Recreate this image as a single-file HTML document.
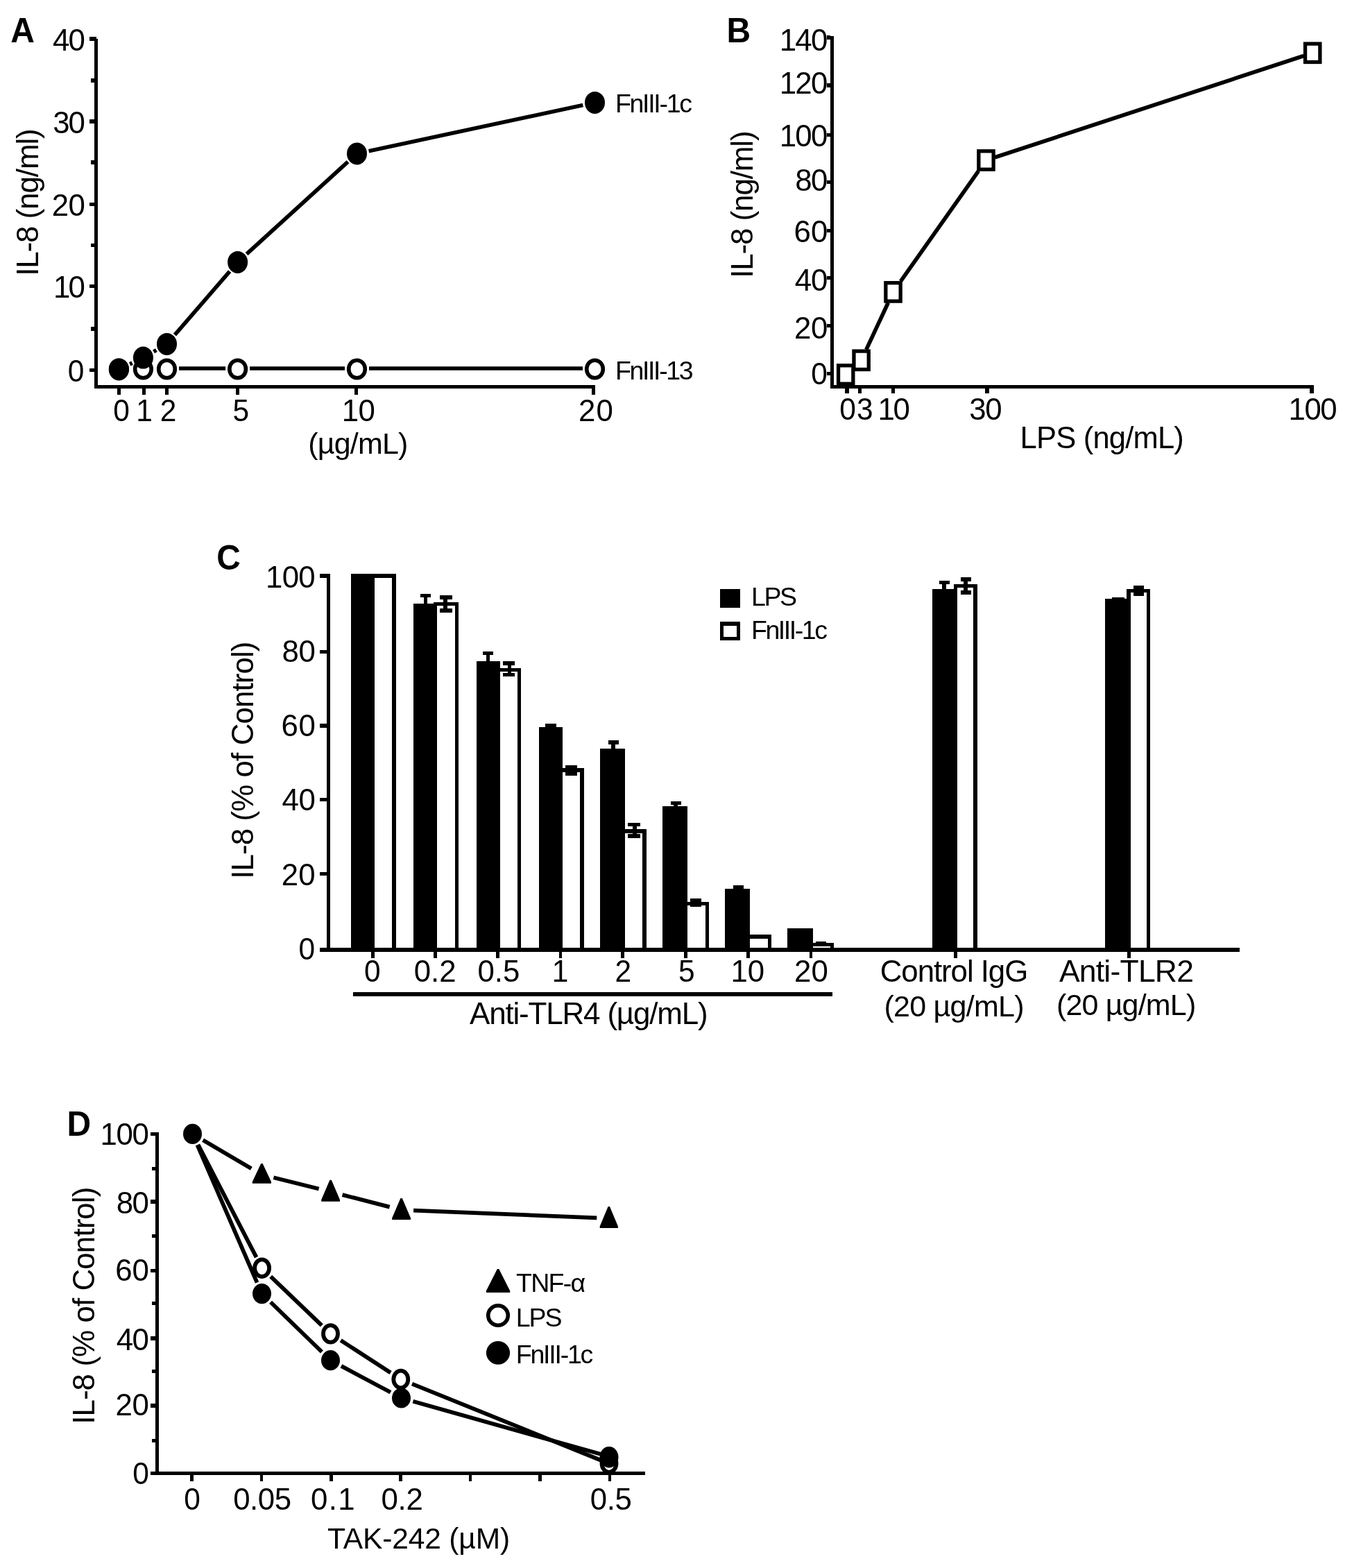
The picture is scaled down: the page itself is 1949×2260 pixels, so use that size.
<!DOCTYPE html>
<html><head><meta charset="utf-8"><title>Figure</title>
<style>html,body{margin:0;padding:0;background:#fff;overflow:hidden;width:1949px;height:2260px;}svg{display:block;}text{font-family:"Liberation Sans",Arial,sans-serif;fill:#000;}</style>
</head><body>
<svg width="1949" height="2260" viewBox="0 0 1949 2260">
<rect width="1949" height="2260" fill="#fff"/>
<text transform="matrix(0.9700 0 0 1 15.16 61.10)" font-size="49.5" font-weight="bold">A</text>
<rect x="136.10" y="56.10" width="4.80" height="503.80" fill="#000" shape-rendering="crispEdges"/>
<rect x="129.00" y="53.00" width="9.90" height="5.90" fill="#000" shape-rendering="crispEdges"/>
<rect x="129.00" y="172.40" width="7.20" height="5.20" fill="#000" shape-rendering="crispEdges"/>
<rect x="129.00" y="291.60" width="7.20" height="5.20" fill="#000" shape-rendering="crispEdges"/>
<rect x="129.00" y="409.90" width="7.20" height="5.20" fill="#000" shape-rendering="crispEdges"/>
<rect x="129.00" y="530.90" width="7.20" height="5.20" fill="#000" shape-rendering="crispEdges"/>
<rect x="131.00" y="113.30" width="5.20" height="5.40" fill="#000" shape-rendering="crispEdges"/>
<rect x="131.00" y="231.30" width="5.20" height="5.40" fill="#000" shape-rendering="crispEdges"/>
<rect x="131.00" y="350.50" width="5.20" height="5.40" fill="#000" shape-rendering="crispEdges"/>
<rect x="131.00" y="471.30" width="5.20" height="5.40" fill="#000" shape-rendering="crispEdges"/>
<rect x="136.20" y="555.20" width="722.20" height="4.70" fill="#000" shape-rendering="crispEdges"/>
<rect x="169.40" y="559.90" width="5.00" height="8.90" fill="#000" shape-rendering="crispEdges"/>
<rect x="205.10" y="559.90" width="5.00" height="8.90" fill="#000" shape-rendering="crispEdges"/>
<rect x="238.00" y="559.90" width="5.00" height="8.90" fill="#000" shape-rendering="crispEdges"/>
<rect x="339.70" y="559.90" width="5.00" height="8.90" fill="#000" shape-rendering="crispEdges"/>
<rect x="510.70" y="559.90" width="5.00" height="8.90" fill="#000" shape-rendering="crispEdges"/>
<rect x="852.60" y="559.90" width="5.00" height="8.90" fill="#000" shape-rendering="crispEdges"/>
<text x="75.91" y="72.60" font-size="43.8" letter-spacing="-1.690">40</text>
<text x="76.36" y="191.60" font-size="43.8" letter-spacing="-2.133">30</text>
<text x="74.71" y="310.80" font-size="43.8" letter-spacing="-0.486">20</text>
<text x="76.90" y="429.10" font-size="43.8" letter-spacing="-2.671">10</text>
<text transform="matrix(0.9700 0 0 1 97.71 550.10)" font-size="43.8">0</text>
<text transform="matrix(0.9700 0 0 1 163.16 606.50)" font-size="43.8">0</text>
<text transform="matrix(0.9700 0 0 1 196.26 606.50)" font-size="43.8">1</text>
<text transform="matrix(0.9700 0 0 1 230.71 606.50)" font-size="43.8">2</text>
<text transform="matrix(0.9700 0 0 1 335.46 606.50)" font-size="43.8">5</text>
<text x="492.80" y="606.50" font-size="43.8" letter-spacing="-0.771">10</text>
<text x="834.11" y="606.50" font-size="43.8" letter-spacing="0.915">20</text>
<text x="444.21" y="653.50" font-size="43" letter-spacing="-0.803">(µg/mL)</text>
<text transform="matrix(0 -1 1 0 54.80 397.87)" font-size="44" letter-spacing="-1.121">IL-8 (ng/ml)</text>
<line x1="258.00" y1="531.00" x2="325.10" y2="531.00" stroke="#000" stroke-width="5.7"/>
<line x1="360.10" y1="531.00" x2="497.00" y2="531.00" stroke="#000" stroke-width="5.7"/>
<line x1="532.00" y1="531.00" x2="840.00" y2="531.00" stroke="#000" stroke-width="5.7"/>
<line x1="187.18" y1="524.83" x2="190.62" y2="523.17" stroke="#000" stroke-width="5.7"/>
<line x1="221.55" y1="506.85" x2="225.35" y2="504.65" stroke="#000" stroke-width="5.7"/>
<line x1="251.95" y1="482.67" x2="331.15" y2="391.13" stroke="#000" stroke-width="5.7"/>
<line x1="355.54" y1="366.12" x2="501.56" y2="233.18" stroke="#000" stroke-width="5.7"/>
<line x1="531.61" y1="217.73" x2="840.39" y2="151.57" stroke="#000" stroke-width="5.7"/>
<ellipse cx="171.40" cy="532.00" rx="11.80" ry="12.80" fill="#fff" stroke="#000" stroke-width="5.6"/>
<ellipse cx="206.40" cy="532.00" rx="11.80" ry="12.80" fill="#fff" stroke="#000" stroke-width="5.6"/>
<ellipse cx="240.50" cy="532.00" rx="11.80" ry="12.80" fill="#fff" stroke="#000" stroke-width="5.6"/>
<ellipse cx="342.60" cy="532.00" rx="11.80" ry="12.80" fill="#fff" stroke="#000" stroke-width="5.6"/>
<ellipse cx="514.50" cy="532.00" rx="11.80" ry="12.80" fill="#fff" stroke="#000" stroke-width="5.6"/>
<ellipse cx="857.50" cy="532.00" rx="11.80" ry="12.80" fill="#fff" stroke="#000" stroke-width="5.6"/>
<ellipse cx="171.40" cy="532.40" rx="14.5" ry="16" fill="#000"/>
<ellipse cx="206.40" cy="515.60" rx="14.5" ry="16" fill="#000"/>
<ellipse cx="240.50" cy="495.90" rx="14.5" ry="16" fill="#000"/>
<ellipse cx="342.60" cy="377.90" rx="14.5" ry="16" fill="#000"/>
<ellipse cx="514.50" cy="221.40" rx="14.5" ry="16" fill="#000"/>
<ellipse cx="857.50" cy="147.90" rx="14.5" ry="16" fill="#000"/>
<text x="886.91" y="161.80" font-size="37.5" letter-spacing="-2.286">FnIII-1c</text>
<text x="886.91" y="546.90" font-size="37.5" letter-spacing="-2.357">FnIII-13</text>
<text transform="matrix(0.9700 0 0 1 1047.46 61.00)" font-size="49.5" font-weight="bold">B</text>
<rect x="1197.20" y="51.50" width="4.60" height="508.30" fill="#000" shape-rendering="crispEdges"/>
<rect x="1192.00" y="51.30" width="5.20" height="5.40" fill="#000" shape-rendering="crispEdges"/>
<rect x="1192.00" y="120.10" width="5.20" height="5.40" fill="#000" shape-rendering="crispEdges"/>
<rect x="1192.00" y="191.60" width="5.20" height="5.40" fill="#000" shape-rendering="crispEdges"/>
<rect x="1192.00" y="259.70" width="5.20" height="5.40" fill="#000" shape-rendering="crispEdges"/>
<rect x="1192.00" y="329.60" width="5.20" height="5.40" fill="#000" shape-rendering="crispEdges"/>
<rect x="1192.00" y="397.50" width="5.20" height="5.40" fill="#000" shape-rendering="crispEdges"/>
<rect x="1192.00" y="467.00" width="5.20" height="5.40" fill="#000" shape-rendering="crispEdges"/>
<rect x="1192.00" y="535.60" width="5.20" height="5.40" fill="#000" shape-rendering="crispEdges"/>
<rect x="1197.20" y="554.90" width="696.60" height="4.90" fill="#000" shape-rendering="crispEdges"/>
<rect x="1218.40" y="559.80" width="5.20" height="7.00" fill="#000" shape-rendering="crispEdges"/>
<rect x="1237.20" y="559.80" width="5.20" height="7.00" fill="#000" shape-rendering="crispEdges"/>
<rect x="1284.80" y="559.80" width="5.20" height="7.00" fill="#000" shape-rendering="crispEdges"/>
<rect x="1420.40" y="559.80" width="5.20" height="7.00" fill="#000" shape-rendering="crispEdges"/>
<rect x="1888.40" y="559.80" width="5.20" height="7.00" fill="#000" shape-rendering="crispEdges"/>
<text x="1123.80" y="72.50" font-size="43.8" letter-spacing="-1.795">140</text>
<text x="1123.80" y="135.40" font-size="43.8" letter-spacing="-1.795">120</text>
<text x="1123.80" y="210.60" font-size="43.8" letter-spacing="-1.795">100</text>
<text x="1146.14" y="275.40" font-size="43.8" letter-spacing="-1.514">80</text>
<text x="1144.61" y="348.50" font-size="43.8" letter-spacing="0.014">60</text>
<text x="1145.81" y="418.50" font-size="43.8" letter-spacing="-1.190">40</text>
<text x="1145.01" y="487.60" font-size="43.8" letter-spacing="-0.386">20</text>
<text transform="matrix(0.9700 0 0 1 1169.26 553.80)" font-size="43.8">0</text>
<text transform="matrix(0.9700 0 0 1 1210.21 604.80)" font-size="43.8">0</text>
<text transform="matrix(0.9700 0 0 1 1235.12 604.80)" font-size="43.8">3</text>
<text x="1265.50" y="604.80" font-size="43.8" letter-spacing="-2.471">10</text>
<text x="1397.26" y="604.80" font-size="43.8" letter-spacing="-1.333">30</text>
<text x="1857.60" y="604.80" font-size="43.8" letter-spacing="-1.495">100</text>
<text x="1470.61" y="645.90" font-size="43.5" letter-spacing="-0.794">LPS (ng/mL)</text>
<text transform="matrix(0 -1 1 0 1085.00 400.87)" font-size="44" letter-spacing="-1.130">IL-8 (ng/ml)</text>
<line x1="1248.78" y1="503.90" x2="1280.32" y2="436.30" stroke="#000" stroke-width="5.7"/>
<line x1="1298.40" y1="405.46" x2="1410.60" y2="246.44" stroke="#000" stroke-width="5.7"/>
<line x1="1434.32" y1="226.78" x2="1879.38" y2="80.52" stroke="#000" stroke-width="5.7"/>
<rect x="1208.55" y="526.80" width="21.30" height="26.40" fill="#fff" stroke="#000" stroke-width="5.3"/>
<rect x="1230.95" y="506.10" width="21.30" height="26.40" fill="#fff" stroke="#000" stroke-width="5.3"/>
<rect x="1276.85" y="407.70" width="21.30" height="26.40" fill="#fff" stroke="#000" stroke-width="5.3"/>
<rect x="1410.85" y="217.80" width="21.30" height="26.40" fill="#fff" stroke="#000" stroke-width="5.3"/>
<rect x="1881.55" y="63.10" width="21.30" height="26.40" fill="#fff" stroke="#000" stroke-width="5.3"/>
<text transform="matrix(0.9700 0 0 1 312.15 820.70)" font-size="49.5" font-weight="bold">C</text>
<rect x="471.00" y="827.00" width="5.00" height="544.90" fill="#000" shape-rendering="crispEdges"/>
<rect x="460.90" y="1366.00" width="1326.20" height="5.90" fill="#000" shape-rendering="crispEdges"/>
<rect x="461.00" y="827.20" width="10.00" height="5.60" fill="#000" shape-rendering="crispEdges"/>
<rect x="461.00" y="936.50" width="10.00" height="5.60" fill="#000" shape-rendering="crispEdges"/>
<rect x="461.00" y="1043.00" width="10.00" height="5.60" fill="#000" shape-rendering="crispEdges"/>
<rect x="461.00" y="1149.80" width="10.00" height="5.60" fill="#000" shape-rendering="crispEdges"/>
<rect x="461.00" y="1256.70" width="10.00" height="5.60" fill="#000" shape-rendering="crispEdges"/>
<text x="383.10" y="846.70" font-size="43.8" letter-spacing="-0.745">100</text>
<text x="406.54" y="954.30" font-size="43.8" letter-spacing="-0.514">80</text>
<text x="405.41" y="1061.30" font-size="43.8" letter-spacing="0.614">60</text>
<text x="406.61" y="1168.30" font-size="43.8" letter-spacing="-0.590">40</text>
<text x="405.81" y="1276.40" font-size="43.8" letter-spacing="0.215">20</text>
<text transform="matrix(0.9700 0 0 1 430.56 1383.20)" font-size="43.8">0</text>
<rect x="535.20" y="1371.90" width="4.60" height="8.60" fill="#000" shape-rendering="crispEdges"/>
<rect x="625.00" y="1371.90" width="4.60" height="8.60" fill="#000" shape-rendering="crispEdges"/>
<rect x="715.40" y="1371.90" width="4.60" height="8.60" fill="#000" shape-rendering="crispEdges"/>
<rect x="805.50" y="1371.90" width="4.60" height="8.60" fill="#000" shape-rendering="crispEdges"/>
<rect x="895.00" y="1371.90" width="4.60" height="8.60" fill="#000" shape-rendering="crispEdges"/>
<rect x="986.00" y="1371.90" width="4.60" height="8.60" fill="#000" shape-rendering="crispEdges"/>
<rect x="1076.00" y="1371.90" width="4.60" height="8.60" fill="#000" shape-rendering="crispEdges"/>
<rect x="1166.60" y="1371.90" width="4.60" height="8.60" fill="#000" shape-rendering="crispEdges"/>
<rect x="1374.90" y="1371.90" width="4.60" height="8.60" fill="#000" shape-rendering="crispEdges"/>
<rect x="1625.40" y="1371.90" width="4.60" height="8.60" fill="#000" shape-rendering="crispEdges"/>
<text transform="matrix(0.9700 0 0 1 524.96 1415.30)" font-size="43.8">0</text>
<text x="596.75" y="1415.30" font-size="43.8" letter-spacing="-0.070">0.2</text>
<text x="688.55" y="1415.30" font-size="43.8" letter-spacing="-0.039">0.5</text>
<text transform="matrix(0.9700 0 0 1 795.71 1415.30)" font-size="43.8">1</text>
<text transform="matrix(0.9700 0 0 1 886.46 1415.30)" font-size="43.8">2</text>
<text transform="matrix(0.9700 0 0 1 978.11 1415.30)" font-size="43.8">5</text>
<text x="1053.50" y="1415.30" font-size="43.8" letter-spacing="-0.171">10</text>
<text x="1145.11" y="1415.30" font-size="43.8" letter-spacing="-0.085">20</text>
<rect x="509.00" y="1430.20" width="690.90" height="5.60" fill="#000" shape-rendering="crispEdges"/>
<text x="676.99" y="1475.80" font-size="44" letter-spacing="-1.189">Anti-TLR4 (µg/mL)</text>
<text x="1268.81" y="1415.30" font-size="43.8" letter-spacing="-1.055">Control IgG</text>
<text x="1274.41" y="1465.30" font-size="43" letter-spacing="-0.743">(20 µg/mL)</text>
<text x="1526.89" y="1414.80" font-size="44.5" letter-spacing="-0.777">Anti-TLR2</text>
<text x="1522.91" y="1462.50" font-size="43" letter-spacing="-0.832">(20 µg/mL)</text>
<text transform="matrix(0 -1 1 0 364.90 1266.87)" font-size="44" letter-spacing="-0.948">IL-8 (% of Control)</text>
<rect x="506.00" y="827.00" width="34.00" height="539.00" fill="#000" shape-rendering="crispEdges"/>
<rect x="535.00" y="827.00" width="36.00" height="539.00" fill="#000" shape-rendering="crispEdges"/>
<rect x="540.00" y="833.00" width="25.00" height="533.00" fill="#fff" shape-rendering="crispEdges"/>
<rect x="596.10" y="870.10" width="33.80" height="495.90" fill="#000" shape-rendering="crispEdges"/>
<rect x="625.20" y="868.00" width="35.80" height="498.00" fill="#000" shape-rendering="crispEdges"/>
<rect x="629.90" y="872.90" width="26.10" height="493.10" fill="#fff" shape-rendering="crispEdges"/>
<rect x="687.10" y="953.20" width="33.90" height="412.80" fill="#000" shape-rendering="crispEdges"/>
<rect x="716.00" y="963.00" width="34.80" height="403.00" fill="#000" shape-rendering="crispEdges"/>
<rect x="721.00" y="967.90" width="25.00" height="398.10" fill="#fff" shape-rendering="crispEdges"/>
<rect x="777.00" y="1048.00" width="34.00" height="318.00" fill="#000" shape-rendering="crispEdges"/>
<rect x="806.00" y="1107.00" width="36.00" height="259.00" fill="#000" shape-rendering="crispEdges"/>
<rect x="811.00" y="1112.90" width="25.00" height="253.10" fill="#fff" shape-rendering="crispEdges"/>
<rect x="865.10" y="1079.00" width="35.90" height="287.00" fill="#000" shape-rendering="crispEdges"/>
<rect x="896.00" y="1194.80" width="36.00" height="171.20" fill="#000" shape-rendering="crispEdges"/>
<rect x="901.00" y="1200.80" width="25.10" height="165.20" fill="#fff" shape-rendering="crispEdges"/>
<rect x="955.10" y="1162.00" width="35.80" height="204.00" fill="#000" shape-rendering="crispEdges"/>
<rect x="986.00" y="1300.00" width="36.00" height="66.00" fill="#000" shape-rendering="crispEdges"/>
<rect x="990.90" y="1304.90" width="26.10" height="61.10" fill="#fff" shape-rendering="crispEdges"/>
<rect x="1045.00" y="1281.00" width="36.00" height="85.00" fill="#000" shape-rendering="crispEdges"/>
<rect x="1076.00" y="1346.90" width="36.00" height="19.10" fill="#000" shape-rendering="crispEdges"/>
<rect x="1081.00" y="1353.00" width="26.00" height="13.00" fill="#fff" shape-rendering="crispEdges"/>
<rect x="1135.00" y="1338.00" width="36.90" height="28.00" fill="#000" shape-rendering="crispEdges"/>
<rect x="1167.00" y="1358.90" width="35.00" height="7.10" fill="#000" shape-rendering="crispEdges"/>
<rect x="1171.90" y="1363.70" width="25.20" height="2.30" fill="#fff" shape-rendering="crispEdges"/>
<rect x="1344.00" y="849.10" width="35.80" height="516.90" fill="#000" shape-rendering="crispEdges"/>
<rect x="1375.20" y="842.00" width="33.80" height="524.00" fill="#000" shape-rendering="crispEdges"/>
<rect x="1379.80" y="846.90" width="23.30" height="519.10" fill="#fff" shape-rendering="crispEdges"/>
<rect x="1593.10" y="863.10" width="36.70" height="502.90" fill="#000" shape-rendering="crispEdges"/>
<rect x="1624.10" y="849.10" width="33.80" height="516.90" fill="#000" shape-rendering="crispEdges"/>
<rect x="1629.80" y="853.90" width="23.30" height="512.10" fill="#fff" shape-rendering="crispEdges"/>
<rect x="606.00" y="855.90" width="15.00" height="5.00" fill="#000" shape-rendering="crispEdges"/>
<rect x="611.10" y="860.90" width="4.80" height="9.20" fill="#000" shape-rendering="crispEdges"/>
<rect x="634.00" y="857.90" width="18.00" height="6.00" fill="#000" shape-rendering="crispEdges"/>
<rect x="634.00" y="876.90" width="18.00" height="5.80" fill="#000" shape-rendering="crispEdges"/>
<rect x="639.20" y="863.90" width="5.80" height="13.00" fill="#000" shape-rendering="crispEdges"/>
<rect x="696.00" y="939.00" width="15.00" height="4.90" fill="#000" shape-rendering="crispEdges"/>
<rect x="701.00" y="943.90" width="5.00" height="9.30" fill="#000" shape-rendering="crispEdges"/>
<rect x="725.10" y="952.90" width="16.80" height="6.10" fill="#000" shape-rendering="crispEdges"/>
<rect x="725.10" y="970.00" width="16.80" height="5.00" fill="#000" shape-rendering="crispEdges"/>
<rect x="732.00" y="959.00" width="4.90" height="11.00" fill="#000" shape-rendering="crispEdges"/>
<rect x="786.00" y="1043.00" width="15.90" height="5.00" fill="#000" shape-rendering="crispEdges"/>
<rect x="815.00" y="1103.00" width="17.00" height="15.00" fill="#000" shape-rendering="crispEdges"/>
<rect x="876.90" y="1067.00" width="15.10" height="6.00" fill="#000" shape-rendering="crispEdges"/>
<rect x="881.10" y="1073.00" width="5.60" height="6.00" fill="#000" shape-rendering="crispEdges"/>
<rect x="905.10" y="1186.00" width="17.90" height="5.00" fill="#000" shape-rendering="crispEdges"/>
<rect x="905.10" y="1202.00" width="17.90" height="5.70" fill="#000" shape-rendering="crispEdges"/>
<rect x="912.10" y="1191.00" width="5.60" height="11.00" fill="#000" shape-rendering="crispEdges"/>
<rect x="966.90" y="1154.90" width="15.10" height="5.00" fill="#000" shape-rendering="crispEdges"/>
<rect x="971.10" y="1159.90" width="5.80" height="2.10" fill="#000" shape-rendering="crispEdges"/>
<rect x="994.80" y="1295.00" width="16.30" height="12.00" fill="#000" shape-rendering="crispEdges"/>
<rect x="1057.00" y="1276.00" width="15.10" height="5.00" fill="#000" shape-rendering="crispEdges"/>
<rect x="1176.00" y="1357.00" width="15.00" height="6.70" fill="#000" shape-rendering="crispEdges"/>
<rect x="1354.00" y="837.00" width="14.90" height="4.80" fill="#000" shape-rendering="crispEdges"/>
<rect x="1358.10" y="841.80" width="5.90" height="7.30" fill="#000" shape-rendering="crispEdges"/>
<rect x="1385.00" y="832.10" width="14.90" height="5.70" fill="#000" shape-rendering="crispEdges"/>
<rect x="1385.00" y="851.10" width="14.90" height="5.70" fill="#000" shape-rendering="crispEdges"/>
<rect x="1389.20" y="837.80" width="5.70" height="13.30" fill="#000" shape-rendering="crispEdges"/>
<rect x="1603.00" y="861.00" width="18.00" height="2.10" fill="#000" shape-rendering="crispEdges"/>
<rect x="1634.10" y="844.00" width="14.90" height="14.80" fill="#000" shape-rendering="crispEdges"/>
<rect x="1037.90" y="849.00" width="29.10" height="26.90" fill="#000" shape-rendering="crispEdges"/>
<rect x="1037.90" y="896.00" width="29.10" height="26.90" fill="#000" shape-rendering="crispEdges"/>
<rect x="1043.00" y="902.00" width="19.20" height="16.20" fill="#fff" shape-rendering="crispEdges"/>
<text x="1082.91" y="872.90" font-size="37.5" letter-spacing="-2.350">LPS</text>
<text x="1082.91" y="920.90" font-size="37.5" letter-spacing="-2.429">FnIII-1c</text>
<text transform="matrix(0.9700 0 0 1 96.55 1636.90)" font-size="49.5" font-weight="bold">D</text>
<rect x="224.10" y="1632.30" width="4.60" height="493.50" fill="#000" shape-rendering="crispEdges"/>
<rect x="217.10" y="2121.10" width="712.80" height="4.70" fill="#000" shape-rendering="crispEdges"/>
<rect x="217.10" y="1632.20" width="7.00" height="5.20" fill="#000" shape-rendering="crispEdges"/>
<rect x="217.10" y="1729.40" width="7.00" height="5.20" fill="#000" shape-rendering="crispEdges"/>
<rect x="217.10" y="1828.90" width="7.00" height="5.20" fill="#000" shape-rendering="crispEdges"/>
<rect x="217.10" y="1926.40" width="7.00" height="5.20" fill="#000" shape-rendering="crispEdges"/>
<rect x="217.10" y="2023.30" width="7.00" height="5.20" fill="#000" shape-rendering="crispEdges"/>
<rect x="219.20" y="1681.80" width="4.90" height="5.00" fill="#000" shape-rendering="crispEdges"/>
<rect x="219.20" y="1778.90" width="4.90" height="5.00" fill="#000" shape-rendering="crispEdges"/>
<rect x="219.20" y="1876.40" width="4.90" height="5.00" fill="#000" shape-rendering="crispEdges"/>
<rect x="219.20" y="1974.00" width="4.90" height="5.00" fill="#000" shape-rendering="crispEdges"/>
<rect x="219.20" y="2073.50" width="4.90" height="5.00" fill="#000" shape-rendering="crispEdges"/>
<text x="144.60" y="1649.60" font-size="43.8" letter-spacing="-1.395">100</text>
<text x="167.64" y="1749.40" font-size="43.8" letter-spacing="-1.414">80</text>
<text x="166.21" y="1846.30" font-size="43.8" letter-spacing="0.014">60</text>
<text x="167.81" y="1946.40" font-size="43.8" letter-spacing="-1.590">40</text>
<text x="166.61" y="2040.20" font-size="43.8" letter-spacing="-0.386">20</text>
<text transform="matrix(0.9700 0 0 1 191.26 2139.30)" font-size="43.8">0</text>
<rect x="274.10" y="2125.80" width="4.60" height="9.00" fill="#000" shape-rendering="crispEdges"/>
<rect x="374.50" y="2125.80" width="4.60" height="9.00" fill="#000" shape-rendering="crispEdges"/>
<rect x="474.90" y="2125.80" width="4.60" height="9.00" fill="#000" shape-rendering="crispEdges"/>
<rect x="575.30" y="2125.80" width="4.60" height="9.00" fill="#000" shape-rendering="crispEdges"/>
<rect x="675.70" y="2125.80" width="4.60" height="9.00" fill="#000" shape-rendering="crispEdges"/>
<rect x="776.10" y="2125.80" width="4.60" height="9.00" fill="#000" shape-rendering="crispEdges"/>
<rect x="876.50" y="2125.80" width="4.60" height="9.00" fill="#000" shape-rendering="crispEdges"/>
<text transform="matrix(0.9700 0 0 1 265.26 2175.90)" font-size="43.8">0</text>
<text x="336.25" y="2175.90" font-size="43.8" letter-spacing="-0.496">0.05</text>
<text x="447.95" y="2175.90" font-size="43.8" letter-spacing="1.337">0.1</text>
<text x="549.45" y="2175.90" font-size="43.8" letter-spacing="-0.270">0.2</text>
<text x="850.85" y="2175.90" font-size="43.8" letter-spacing="-0.489">0.5</text>
<text x="472.04" y="2231.90" font-size="42.5" letter-spacing="-0.132">TAK-242 (µM)</text>
<text transform="matrix(0 -1 1 0 136.00 2052.87)" font-size="44" letter-spacing="-0.959">IL-8 (% of Control)</text>
<line x1="292.59" y1="1643.25" x2="362.31" y2="1684.15" stroke="#000" stroke-width="5.8"/>
<line x1="394.38" y1="1697.24" x2="459.62" y2="1713.56" stroke="#000" stroke-width="5.8"/>
<line x1="493.55" y1="1722.15" x2="561.65" y2="1739.65" stroke="#000" stroke-width="5.8"/>
<line x1="596.09" y1="1744.70" x2="860.31" y2="1755.30" stroke="#000" stroke-width="5.8"/>
<line x1="285.55" y1="1649.94" x2="369.55" y2="1812.16" stroke="#000" stroke-width="5.8"/>
<line x1="390.24" y1="1839.80" x2="463.86" y2="1910.30" stroke="#000" stroke-width="5.8"/>
<line x1="491.19" y1="1931.91" x2="563.11" y2="1978.49" stroke="#000" stroke-width="5.8"/>
<line x1="594.02" y1="1994.57" x2="866.88" y2="2105.00" stroke="#000" stroke-width="5.8"/>
<line x1="284.47" y1="1650.45" x2="370.53" y2="1848.55" stroke="#000" stroke-width="5.8"/>
<line x1="390.06" y1="1876.79" x2="463.94" y2="1948.51" stroke="#000" stroke-width="5.8"/>
<line x1="491.95" y1="1968.92" x2="563.05" y2="2006.78" stroke="#000" stroke-width="5.8"/>
<line x1="595.35" y1="2019.74" x2="866.45" y2="2096.05" stroke="#000" stroke-width="5.8"/>
<path d="M376.20 1676.90 L378.60 1676.90 L391.00 1703.30 L391.00 1705.80 L363.80 1705.80 L363.80 1703.30 Z" fill="#000"/>
<path d="M475.40 1700.70 L477.80 1700.70 L490.00 1729.30 L490.00 1731.80 L463.20 1731.80 L463.20 1729.30 Z" fill="#000"/>
<path d="M577.40 1726.90 L579.80 1726.90 L592.00 1755.50 L592.00 1758.00 L565.20 1758.00 L565.20 1755.50 Z" fill="#000"/>
<path d="M876.60 1739.00 L879.00 1739.00 L890.90 1767.50 L890.90 1770.00 L864.70 1770.00 L864.70 1767.50 Z" fill="#000"/>
<ellipse cx="377.60" cy="1827.70" rx="10.50" ry="12.30" fill="#fff" stroke="#000" stroke-width="5.8"/>
<ellipse cx="476.50" cy="1922.40" rx="10.50" ry="12.30" fill="#fff" stroke="#000" stroke-width="5.8"/>
<ellipse cx="577.80" cy="1988.00" rx="10.50" ry="12.30" fill="#fff" stroke="#000" stroke-width="5.8"/>
<ellipse cx="878.00" cy="2109.50" rx="10.50" ry="12.30" fill="#fff" stroke="#000" stroke-width="5.8"/>
<ellipse cx="277.50" cy="1634.40" rx="13.5" ry="14.6" fill="#000"/>
<ellipse cx="377.50" cy="1864.60" rx="13.5" ry="14.6" fill="#000"/>
<ellipse cx="476.50" cy="1960.70" rx="13.5" ry="14.6" fill="#000"/>
<ellipse cx="578.50" cy="2015.00" rx="13.5" ry="14.6" fill="#000"/>
<ellipse cx="878.00" cy="2100.20" rx="13.5" ry="15.3" fill="#000"/>
<path d="M716.85 1829.00 L719.25 1829.00 L735.20 1860.40 L735.20 1862.90 L700.90 1862.90 L700.90 1860.40 Z" fill="#000"/>
<ellipse cx="718.00" cy="1896.00" rx="14.30" ry="14.20" fill="#fff" stroke="#000" stroke-width="5.6"/>
<ellipse cx="718.00" cy="1949.90" rx="17.1" ry="16.9" fill="#000"/>
<text x="744.06" y="1862.00" font-size="37.5" letter-spacing="-1.747">TNF-α</text>
<text x="743.71" y="1912.10" font-size="37.5" letter-spacing="-2.050">LPS</text>
<text x="743.71" y="1964.90" font-size="37.5" letter-spacing="-2.214">FnIII-1c</text>
</svg>
</body></html>
